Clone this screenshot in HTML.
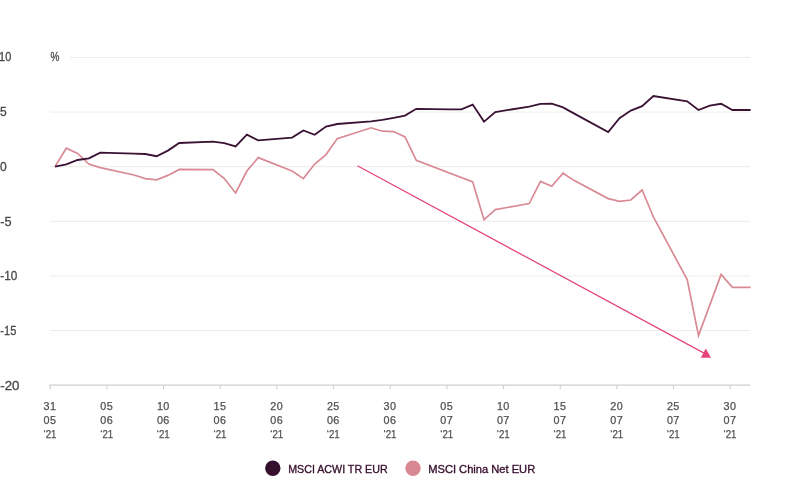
<!DOCTYPE html>
<html lang="en"><head><meta charset="utf-8"><title>MSCI ACWI vs MSCI China</title>
<style>
html,body{margin:0;padding:0;background:#fff;}
body{width:800px;height:500px;overflow:hidden;font-family:"Liberation Sans",sans-serif;}
svg{display:block}
.yl{font-family:"Liberation Sans",sans-serif;font-size:12px;fill:#484848;stroke:#484848;stroke-width:.3px}
.xl{font-family:"Liberation Sans",sans-serif;font-size:10.8px;fill:#505050;stroke:#505050;stroke-width:.25px;text-anchor:middle;letter-spacing:.4px}
.lg{font-family:"Liberation Sans",sans-serif;font-size:11.2px;fill:#38102f;stroke:#38102f;stroke-width:.35px}
</style></head><body>
<svg width="800" height="500" viewBox="0 0 800 500">
<rect width="800" height="500" fill="#fff"/>

<line x1="70" x2="750" y1="57.5" y2="57.5" stroke="#ecece9" stroke-width="1"/>
<line x1="50" x2="750" y1="112.1" y2="112.1" stroke="#ecece9" stroke-width="1"/>
<line x1="50" x2="750" y1="166.7" y2="166.7" stroke="#ecece9" stroke-width="1"/>
<line x1="50" x2="750" y1="221.3" y2="221.3" stroke="#ecece9" stroke-width="1"/>
<line x1="50" x2="750" y1="275.9" y2="275.9" stroke="#ecece9" stroke-width="1"/>
<line x1="50" x2="750" y1="330.5" y2="330.5" stroke="#ecece9" stroke-width="1"/>
<line x1="49.2" x2="750.2" y1="385.1" y2="385.1" stroke="#dcdcda" stroke-width="1.8"/>
<line x1="50.2" x2="50.2" y1="385.1" y2="389.2" stroke="#d0d0ce" stroke-width="1.1"/>
<line x1="106.9" x2="106.9" y1="385.1" y2="389.2" stroke="#d0d0ce" stroke-width="1.1"/>
<line x1="163.5" x2="163.5" y1="385.1" y2="389.2" stroke="#d0d0ce" stroke-width="1.1"/>
<line x1="220.2" x2="220.2" y1="385.1" y2="389.2" stroke="#d0d0ce" stroke-width="1.1"/>
<line x1="276.9" x2="276.9" y1="385.1" y2="389.2" stroke="#d0d0ce" stroke-width="1.1"/>
<line x1="333.5" x2="333.5" y1="385.1" y2="389.2" stroke="#d0d0ce" stroke-width="1.1"/>
<line x1="390.2" x2="390.2" y1="385.1" y2="389.2" stroke="#d0d0ce" stroke-width="1.1"/>
<line x1="446.9" x2="446.9" y1="385.1" y2="389.2" stroke="#d0d0ce" stroke-width="1.1"/>
<line x1="503.5" x2="503.5" y1="385.1" y2="389.2" stroke="#d0d0ce" stroke-width="1.1"/>
<line x1="560.2" x2="560.2" y1="385.1" y2="389.2" stroke="#d0d0ce" stroke-width="1.1"/>
<line x1="616.9" x2="616.9" y1="385.1" y2="389.2" stroke="#d0d0ce" stroke-width="1.1"/>
<line x1="673.5" x2="673.5" y1="385.1" y2="389.2" stroke="#d0d0ce" stroke-width="1.1"/>
<line x1="730.2" x2="730.2" y1="385.1" y2="389.2" stroke="#d0d0ce" stroke-width="1.1"/>
<text class="yl" x="-0.9" y="61.1" textLength="12.2" lengthAdjust="spacingAndGlyphs">10</text>
<text class="yl" x="0" y="115.9">5</text>
<text class="yl" x="0" y="170.7">0</text>
<text class="yl" x="0.3" y="225.5" textLength="11.3" lengthAdjust="spacingAndGlyphs">-5</text>
<text class="yl" x="0.3" y="280.3" textLength="17.0" lengthAdjust="spacingAndGlyphs">-10</text>
<text class="yl" x="0.3" y="335.1" textLength="16.0" lengthAdjust="spacingAndGlyphs">-15</text>
<text class="yl" x="0.3" y="389.9" textLength="19.2" lengthAdjust="spacingAndGlyphs">-20</text>
<text class="yl" x="50.6" y="61" textLength="8.9" lengthAdjust="spacingAndGlyphs">%</text>
<text class="xl" x="50.0" y="409.5">31</text><text class="xl" x="50.0" y="423.5">05</text><text class="xl" x="50.0" y="437.5" textLength="12.9" lengthAdjust="spacingAndGlyphs" style="letter-spacing:0">‘21</text>
<text class="xl" x="106.7" y="409.5">05</text><text class="xl" x="106.7" y="423.5">06</text><text class="xl" x="106.7" y="437.5" textLength="12.9" lengthAdjust="spacingAndGlyphs" style="letter-spacing:0">‘21</text>
<text class="xl" x="163.3" y="409.5">10</text><text class="xl" x="163.3" y="423.5">06</text><text class="xl" x="163.3" y="437.5" textLength="12.9" lengthAdjust="spacingAndGlyphs" style="letter-spacing:0">‘21</text>
<text class="xl" x="220.0" y="409.5">15</text><text class="xl" x="220.0" y="423.5">06</text><text class="xl" x="220.0" y="437.5" textLength="12.9" lengthAdjust="spacingAndGlyphs" style="letter-spacing:0">‘21</text>
<text class="xl" x="276.7" y="409.5">20</text><text class="xl" x="276.7" y="423.5">06</text><text class="xl" x="276.7" y="437.5" textLength="12.9" lengthAdjust="spacingAndGlyphs" style="letter-spacing:0">‘21</text>
<text class="xl" x="333.3" y="409.5">25</text><text class="xl" x="333.3" y="423.5">06</text><text class="xl" x="333.3" y="437.5" textLength="12.9" lengthAdjust="spacingAndGlyphs" style="letter-spacing:0">‘21</text>
<text class="xl" x="390.0" y="409.5">30</text><text class="xl" x="390.0" y="423.5">06</text><text class="xl" x="390.0" y="437.5" textLength="12.9" lengthAdjust="spacingAndGlyphs" style="letter-spacing:0">‘21</text>
<text class="xl" x="446.7" y="409.5">05</text><text class="xl" x="446.7" y="423.5">07</text><text class="xl" x="446.7" y="437.5" textLength="12.9" lengthAdjust="spacingAndGlyphs" style="letter-spacing:0">‘21</text>
<text class="xl" x="503.3" y="409.5">10</text><text class="xl" x="503.3" y="423.5">07</text><text class="xl" x="503.3" y="437.5" textLength="12.9" lengthAdjust="spacingAndGlyphs" style="letter-spacing:0">‘21</text>
<text class="xl" x="560.0" y="409.5">15</text><text class="xl" x="560.0" y="423.5">07</text><text class="xl" x="560.0" y="437.5" textLength="12.9" lengthAdjust="spacingAndGlyphs" style="letter-spacing:0">‘21</text>
<text class="xl" x="616.7" y="409.5">20</text><text class="xl" x="616.7" y="423.5">07</text><text class="xl" x="616.7" y="437.5" textLength="12.9" lengthAdjust="spacingAndGlyphs" style="letter-spacing:0">‘21</text>
<text class="xl" x="673.3" y="409.5">25</text><text class="xl" x="673.3" y="423.5">07</text><text class="xl" x="673.3" y="437.5" textLength="12.9" lengthAdjust="spacingAndGlyphs" style="letter-spacing:0">‘21</text>
<text class="xl" x="730.0" y="409.5">30</text><text class="xl" x="730.0" y="423.5">07</text><text class="xl" x="730.0" y="437.5" textLength="12.9" lengthAdjust="spacingAndGlyphs" style="letter-spacing:0">‘21</text>
<path d="M55.0,166.6 L66.3,148.2 L77.6,153.4 L88.9,164.0 L100.2,167.6 L134.0,175.0 L145.3,178.6 L156.6,179.8 L167.9,175.4 L179.2,169.4 L213.1,169.6 L224.3,178.6 L235.6,193.0 L246.9,171.0 L258.2,157.6 L292.1,171.0 L303.4,178.6 L314.7,164.0 L326.0,154.6 L337.2,138.6 L371.1,127.8 L382.4,131.2 L393.7,131.6 L405.0,137.0 L416.3,160.4 L472.7,182.0 L484.0,219.8 L495.3,209.6 L529.2,203.6 L540.5,181.4 L551.8,186.2 L563.0,173.2 L574.3,180.6 L608.2,198.6 L619.5,201.3 L630.8,200.0 L642.1,190.0 L653.4,217.0 L687.2,279.6 L698.5,335.6 L721.1,274.4 L732.4,287.4 L750.6,287.4" fill="none" stroke="#d98a94" stroke-width="1.7" stroke-linejoin="miter"/>
<path d="M55.0,166.6 L66.3,164.4 L77.6,160.0 L88.9,158.4 L100.2,152.6 L134.0,153.6 L145.3,154.0 L156.6,156.2 L167.9,150.6 L179.2,143.0 L213.1,141.6 L224.3,143.2 L235.6,146.4 L246.9,134.6 L258.2,140.4 L292.1,137.6 L303.4,130.4 L314.7,134.8 L326.0,126.6 L337.2,124.0 L371.1,121.4 L382.4,119.8 L393.7,117.8 L405.0,115.6 L416.3,108.8 L450.1,109.4 L461.4,109.4 L472.7,104.6 L484.0,121.6 L495.3,112.0 L529.2,106.6 L540.5,103.8 L551.8,103.6 L563.0,107.4 L574.3,113.6 L608.2,132.0 L619.5,118.2 L630.8,110.6 L642.1,106.1 L653.4,96.0 L687.2,101.4 L698.5,110.0 L709.8,105.6 L721.1,103.8 L732.4,110.0 L750.6,110.0" fill="none" stroke="#3a1233" stroke-width="1.8" stroke-linejoin="miter"/>
<line x1="357.4" y1="165.8" x2="705" y2="353.6" stroke="#e5457a" stroke-width="1.25"/>
<polygon points="705.8,348.6 711,357.8 700.8,357.8" fill="#e5457a"/>
<circle cx="272.8" cy="468.3" r="7.7" fill="#38102f"/>
<text class="lg" x="288.2" y="472.5" textLength="99.4" lengthAdjust="spacingAndGlyphs">MSCI ACWI TR EUR</text>
<circle cx="413" cy="468.3" r="7.7" fill="#d88893"/>
<text class="lg" x="428.2" y="472.5" textLength="107" lengthAdjust="spacingAndGlyphs">MSCI China Net EUR</text>
</svg></body></html>
